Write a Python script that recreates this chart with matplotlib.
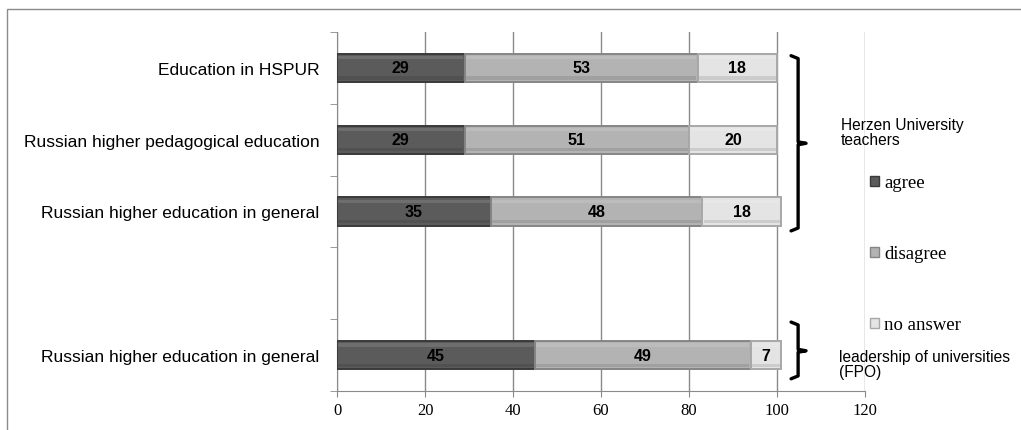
import matplotlib
matplotlib.use('Agg')
import matplotlib.pyplot as plt
from matplotlib.patches import Rectangle
from matplotlib.lines import Line2D
import numpy as np

# survey answers, percent (top to bottom; the empty slot separates the two groups)
categories = ['Education in HSPUR',
              'Russian higher pedagogical education',
              'Russian higher education in general',
              '',
              'Russian higher education in general']
agree = [29, 29, 35, None, 45]
disagree = [53, 51, 48, None, 49]
no_answer = [18, 20, 18, None, 7]
series_names = ['agree', 'disagree', 'no answer']
group_notes = ['Herzen University\nteachers', 'leadership of universities\n(FPO)']
xticks = [0, 20, 40, 60, 80, 100, 120]

face = ['#5b5b5b', '#b3b3b3', '#e4e4e4']
edge = ['#3a3a3a', '#858585', '#a8a8a8']

fig = plt.figure(figsize=(10.21, 4.31), dpi=100)
fig.patch.set_facecolor('white')

# outer frame (only top and left edges fall inside the image)
fig.add_artist(Rectangle((7 / 1021, -0.1), 1.2, 1 - 10 / 431 + 0.1,
                         transform=fig.transFigure, fill=False,
                         edgecolor='#8a8a8a', linewidth=1.0))

ax = fig.add_axes([337 / 1021, 1 - 392 / 431, 528 / 1021, 359 / 431])

ypos = np.arange(len(categories))[::-1]
bar_h = 0.39
series = [agree, disagree, no_answer]
for y, *vals in zip(ypos, *series):
    if vals[0] is None:
        continue
    left = 0
    for i, v in enumerate(vals):
        ax.barh(y, v, left=left, height=bar_h, color=face[i],
                edgecolor=edge[i], linewidth=1.4, zorder=3)
        # soft bevel: light strip on top, darker strip at the bottom
        ax.barh(y + bar_h * 0.36, v - 0.6, left=left + 0.3, height=bar_h * 0.12,
                color='white', alpha=0.12, linewidth=0, zorder=4)
        ax.barh(y - bar_h * 0.36, v - 0.6, left=left + 0.3, height=bar_h * 0.12,
                color='black', alpha=0.10, linewidth=0, zorder=4)
        ax.text(left + v / 2, y, str(v), ha='center', va='center',
                fontsize=11.5, fontweight='bold', color='black',
                family='Liberation Sans', zorder=5)
        left += v

ax.set_xlim(0, 120)
ax.set_ylim(-0.5, len(categories) - 0.5)
ax.set_xticks(xticks)
ax.set_xticklabels([str(t) for t in xticks], family='Liberation Serif', fontsize=12)
ax.tick_params(axis='x', length=4, color='#8a8a8a', pad=4)
ax.grid(axis='x', color='#8a8a8a', linewidth=1.0, zorder=0)

ax.set_yticks(ypos)
ax.set_yticklabels(categories, family='Liberation Sans', fontsize=12.5)
ax.tick_params(axis='y', length=0, pad=12.5)
ax.set_yticks(np.arange(-0.5, len(categories), 1.0), minor=True)
ax.tick_params(axis='y', which='minor', length=5, color='#8a8a8a')

for s in ['top', 'right']:
    ax.spines[s].set_visible(False)
for s in ['left', 'bottom']:
    ax.spines[s].set_color('#8a8a8a')
    ax.spines[s].set_zorder(1)


def bracket(ax, x, y0, y1, ym, hook=1.6, nose=1.8):
    pts_x = [x - hook, x, x, x + nose, x, x, x - hook]
    pts_y = [y1, y1 - 0.04, ym + 0.02, ym, ym - 0.02, y0 + 0.04, y0]
    ax.add_line(Line2D(pts_x, pts_y, color='black', linewidth=2.4,
                       solid_joinstyle='round', solid_capstyle='round',
                       clip_on=False, zorder=6))


bracket(ax, 104.8, 1.73, 4.17, 2.95)
bracket(ax, 104.8, -0.33, 0.46, 0.06)

ax.text(114.5, 3.107, group_notes[0], family='Liberation Sans', fontsize=11.2,
        ha='left', va='center', linespacing=1.0)
ax.text(114.2, -0.124, group_notes[1], family='Liberation Sans', fontsize=11.2,
        ha='left', va='center', linespacing=1.05)

handles = [Rectangle((0, 0), 1, 1, facecolor=face[i], edgecolor=edge[i])
           for i in range(3)]
leg = ax.legend(handles, series_names, loc='upper left',
                bbox_to_anchor=(119.5 / 120, 3.12 / 5.0), frameon=False,
                handlelength=0.45, handleheight=0.45, handletextpad=0.3,
                labelspacing=2.88, borderaxespad=0,
                prop={'family': 'Liberation Serif', 'size': 13.5})

fig.savefig('out.png', dpi=100, facecolor='white')
